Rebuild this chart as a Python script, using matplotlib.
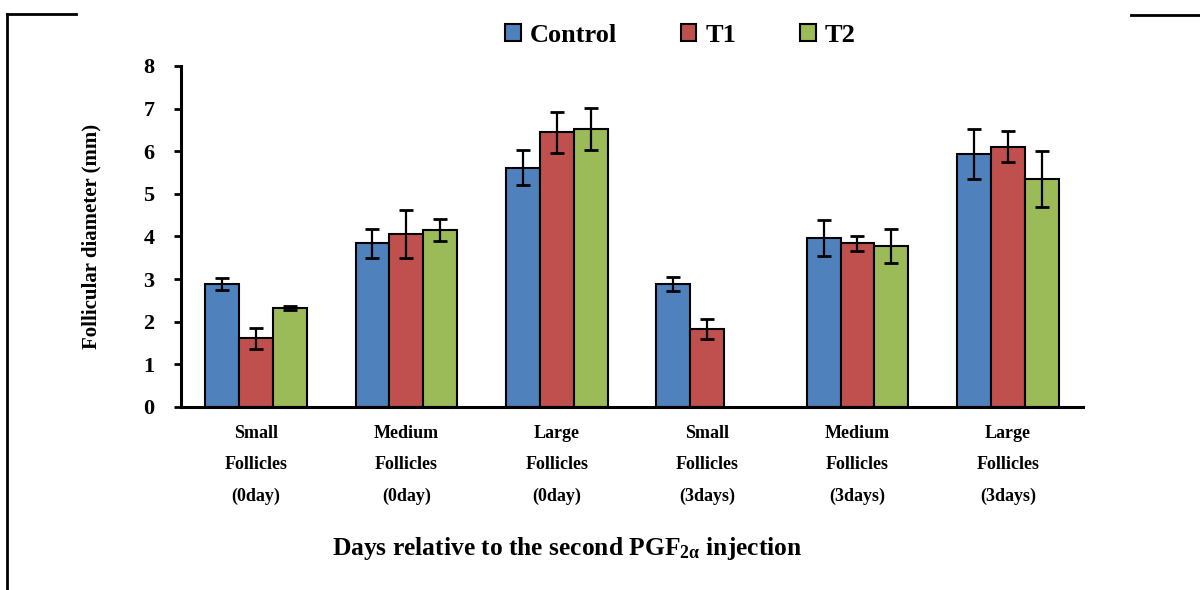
import numpy as np
import matplotlib
matplotlib.use("Agg")
import matplotlib.pyplot as plt
from matplotlib.lines import Line2D

plt.rcParams['font.family'] = ['Liberation Serif', 'DejaVu Serif']
plt.rcParams['font.weight'] = 'bold'
plt.rcParams['mathtext.fontset'] = 'custom'
plt.rcParams['mathtext.rm'] = 'Liberation Serif:bold'
plt.rcParams['mathtext.bf'] = 'Liberation Serif:bold'
plt.rcParams['mathtext.it'] = 'Liberation Serif:bold'

categories = ["Small\nFollicles\n(0day)", "Medium\nFollicles\n(0day)", "Large\nFollicles\n(0day)",
              "Small\nFollicles\n(3days)", "Medium\nFollicles\n(3days)", "Large\nFollicles\n(3days)"]
series_names = ["Control", "T1", "T2"]
control = [2.88, 3.84, 5.61, 2.88, 3.96, 5.93]
control_err = [0.14, 0.34, 0.41, 0.17, 0.42, 0.59]
t1 = [1.61, 4.06, 6.44, 1.83, 3.84, 6.11]
t1_err = [0.24, 0.56, 0.48, 0.24, 0.18, 0.36]
t2 = [2.33, 4.15, 6.52, 0.0, 3.78, 5.34]
t2_err = [0.05, 0.25, 0.50, 0.0, 0.40, 0.66]
yticks = [0, 1, 2, 3, 4, 5, 6, 7, 8]

colors = ["#4F81BD", "#C0504D", "#9BBB59"]

fig = plt.figure(figsize=(12, 5.9), dpi=100)
ax = fig.add_axes([0.1508, 0.3102, 0.7517, 0.578])

x = np.arange(len(categories))
w = 0.226
vals = [control, t1, t2]
errs = [control_err, t1_err, t2_err]
handles = []
for i, (v, e, c, n) in enumerate(zip(vals, errs, colors, series_names)):
    pos = x + (i - 1) * w
    v = np.array(v)
    e = np.array(e)
    mask = v > 0
    b = ax.bar(pos[mask], v[mask], width=w, color=c, edgecolor='black', linewidth=1.5, label=n, zorder=2)
    ax.errorbar(pos[mask], v[mask], yerr=e[mask], fmt='none', ecolor='black', elinewidth=1.6,
                capsize=5, capthick=2, zorder=3)
    handles.append(b)

ax.set_xlim(-0.5, 5.5)
ax.set_ylim(0, 8)
ax.set_yticks(yticks)
ax.set_yticklabels([str(t) for t in yticks], fontsize=16, fontweight='bold')
ax.set_xticks(x)
ax.set_xticklabels(categories, fontsize=13, fontweight='bold', linespacing=2.08)
ax.tick_params(axis='x', length=0, pad=13)
ax.tick_params(axis='y', direction='out', length=5, width=2, pad=14)
for s in ['top', 'right']:
    ax.spines[s].set_visible(False)
for s in ['left', 'bottom']:
    ax.spines[s].set_linewidth(2.2)

ax.set_ylabel("Follicular diameter (mm)", fontsize=15, fontweight='bold', labelpad=30)

fig.text(0.473, 0.071, r"Days relative to the second PGF$_{\mathbf{2α}}$ injection",
         ha='center', va='center', fontsize=18.4, fontweight='bold')

leg = fig.legend(handles=handles, labels=series_names, loc='center', bbox_to_anchor=(0.567, 0.94),
                 ncol=3, frameon=False, handlelength=0.6, handleheight=0.6,
                 handletextpad=0.35, columnspacing=2.4,
                 prop={'family': 'Liberation Serif', 'weight': 'bold', 'size': 19})

# decorative frame lines
fig.add_artist(Line2D([7/1200, 76/1200], [1-14/590, 1-14/590], color='black', lw=2, transform=fig.transFigure))
fig.add_artist(Line2D([7/1200, 7/1200], [1-14/590, 0], color='black', lw=2, transform=fig.transFigure))
fig.add_artist(Line2D([1131/1200, 1.0], [1-15/590, 1-15/590], color='black', lw=2, transform=fig.transFigure))

fig.savefig("out.png", dpi=100)
